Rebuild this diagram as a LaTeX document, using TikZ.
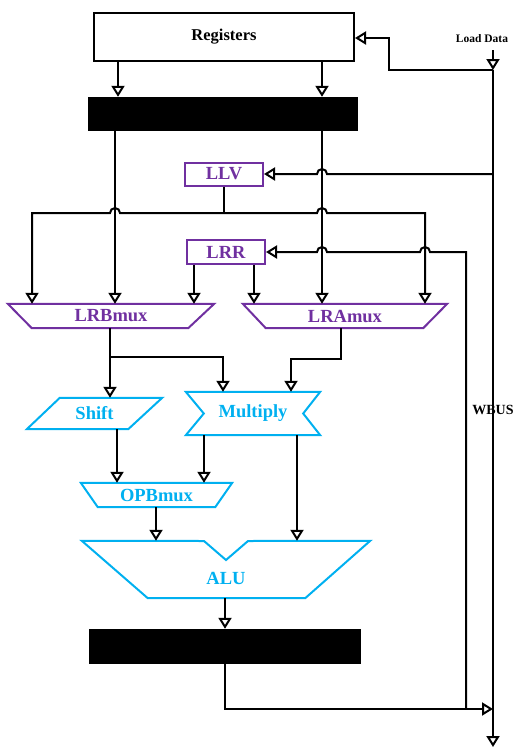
\documentclass[tikz,border=0pt]{standalone}
\usepackage{fontspec}
\setmainfont{Liberation Serif}
\usetikzlibrary{arrows.meta,calc}
\definecolor{regpurple}{HTML}{7030A0}
\definecolor{alublue}{HTML}{00B0F0}

\begin{document}
\begin{tikzpicture}[x=1pt,y=-1pt,
  wire/.style={line width=2pt,draw=black},
  arr/.style={wire,-{Triangle[open,length=11pt,width=13pt,line width=2pt]}},
  frame/.style={rectangle,inner sep=0pt,draw=none},
  blackbox/.style={rectangle,inner sep=0pt,fill=black,draw=none},
  regbox/.style={rectangle,inner sep=0pt,draw=black,line width=2pt,
    font=\bfseries\fontsize{16.5}{18}\selectfont},
  pbox/.style={rectangle,inner sep=0pt,draw=regpurple,line width=2pt,
    text=regpurple,font=\bfseries\fontsize{18.5}{20}\selectfont},
  ptxt/.style={frame,text=regpurple,font=\bfseries\fontsize{18.5}{20}\selectfont},
  btxt/.style={frame,text=alublue,font=\bfseries\fontsize{18.5}{20}\selectfont},
  pline/.style={draw=regpurple,line width=2pt,line join=miter},
  bline/.style={draw=alublue,line width=2pt,line join=miter},
  smalllabel/.style={font=\bfseries\fontsize{11.5}{13}\selectfont,inner sep=0pt},
  buslabel/.style={font=\bfseries\fontsize{14}{16}\selectfont,inner sep=0pt}
]
\useasboundingbox (0,0) rectangle (516,748);

% ---- register file and operand latches ----
\node[regbox,minimum width=260pt,minimum height=48pt] (regs) at (224,37) {Registers};
\node[blackbox,minimum width=270pt,minimum height=34pt] (blk1) at (223,114) {};

% ---- purple latches and muxes ----
\node[pbox,minimum width=78pt,minimum height=23pt] (llv) at (224,174) {LLV};
\node[pbox,minimum width=78pt,minimum height=24pt] (lrr) at (226,252) {LRR};
\node[ptxt,minimum width=206pt,minimum height=24pt] (lrb) at (111,316) {LRBmux};
\node[ptxt,minimum width=204pt,minimum height=24pt] (lra) at (345,316) {LRAmux};
\draw[pline] (lrb.north west) -- (lrb.north east) -- ([xshift=-26pt]lrb.south east)
  -- ([xshift=24pt]lrb.south west) -- cycle;
\draw[pline] (lra.north west) -- (lra.north east) -- ([xshift=-24pt]lra.south east)
  -- ([xshift=23pt]lra.south west) -- cycle;

% ---- blue datapath units ----
\node[btxt,minimum width=135pt,minimum height=31pt] (shift) at (94.5,413.5) {Shift};
\draw[bline] ([xshift=33pt]shift.north west) -- (shift.north east)
  -- ([xshift=-34pt]shift.south east) -- (shift.south west) -- cycle;

\node[btxt,minimum width=134pt,minimum height=43pt] (mult) at (253,413.5) {Multiply};
\draw[bline] (mult.north west) -- (mult.north east) -- ([xshift=-17pt]mult.east)
  -- (mult.south east) -- (mult.south west) -- ([xshift=18pt]mult.west) -- cycle;

\node[btxt,minimum width=151pt,minimum height=24pt] (opb) at (156.5,495) {OPBmux};
\draw[bline] (opb.north west) -- (opb.north east) -- ([xshift=-17pt]opb.south east)
  -- ([xshift=17pt]opb.south west) -- cycle;

\node[frame,minimum width=288pt,minimum height=57pt] (alu) at (226,569.5) {};
\coordinate (aluNotchL) at (204,541);
\coordinate (aluNotch) at (226,560);
\coordinate (aluNotchR) at (248,541);
\draw[bline] (alu.north west) -- (aluNotchL) -- (aluNotch) -- (aluNotchR)
  -- (alu.north east) -- ([xshift=-65pt]alu.south east)
  -- ([xshift=66pt]alu.south west) -- cycle;
\node[btxt] (alutxt) at (226,578) {ALU};

\node[blackbox,minimum width=272pt,minimum height=35pt] (blk2) at (225,646.5) {};

% ---- bus and labels ----
\node[smalllabel] (ld) at (482,39) {Load Data};
\node[buslabel] (wbus) at (493,410) {WBUS};
\coordinate (ldTail) at (493,50);
\coordinate (busTop) at (493,70);
\coordinate (busEnd) at (493,747);
\coordinate (regIn) at (389,38);
\coordinate (wbTap) at (466,709);
\coordinate (wbIn) at (493,709);

% column positions
\coordinate (cRegB) at (118,0);
\coordinate (cRegA) at (322,0);
\coordinate (cB) at (115,0);
\coordinate (cA) at (322,0);
\coordinate (cLL) at (32,0);
\coordinate (cLR) at (425,0);
\coordinate (cRR1) at (194,0);
\coordinate (cRR2) at (254,0);

% load data into the bus
\draw[arr] (ldTail) -- (busTop);
\draw[arr] (busTop) -- (busEnd);
\draw[arr] (busTop) -- (regIn |- busTop) -- (regIn) -- (regs.east |- regIn);

% register outputs into the latches
\draw[arr] (regs.south -| cRegB) -- (blk1.north -| cRegB);
\draw[arr] (regs.south -| cRegA) -- (blk1.north -| cRegA);

% latches down to the muxes
\draw[arr] (blk1.south -| cB) -- (lrb.north -| cB);
\draw[arr] (blk1.south -| cA) -- (lra.north -| cA);

% bus into LLV, hopping over the A column
\draw[arr] (493,174) -- (327,174) arc[start angle=0,end angle=180,radius=5pt] -- (llv.east);

% LLV fan-out
\coordinate (llvSplit) at (224,213);
\draw[wire] (llv.south) -- (llvSplit);
\draw[arr] (llvSplit) -- (120,213) arc[start angle=0,end angle=180,radius=5pt]
  -- (cLL |- llvSplit) -- (lrb.north -| cLL);
\draw[arr] (llvSplit) -- (317,213) arc[start angle=180,end angle=0,radius=5pt]
  -- (cLR |- llvSplit) -- (lra.north -| cLR);

% write-back into LRR, hopping over two columns
\draw[arr] (wbTap) -- (466,252) -- (430,252) arc[start angle=0,end angle=180,radius=5pt]
  -- (327,252) arc[start angle=0,end angle=180,radius=5pt] -- (lrr.east);

% LRR into both muxes
\draw[arr] (lrr.south -| cRR1) -- (lrb.north -| cRR1);
\draw[arr] (lrr.south -| cRR2) -- (lra.north -| cRR2);

% mux outputs
\coordinate (bSplit) at (110,357);
\draw[arr] (lrb.south -| bSplit) -- (shift.north -| bSplit);
\draw[arr] (bSplit) -- (223,357) -- (mult.north -| 223,0);
\draw[arr] (lra.south -| 341,0) -- (341,359) -- (291,359) -- (mult.north -| 291,0);

% into the operand-B mux and the ALU
\draw[arr] (shift.south -| 117,0) -- (opb.north -| 117,0);
\draw[arr] (mult.south -| 204,0) -- (opb.north -| 204,0);
\draw[arr] (mult.south -| 297,0) -- (alu.north -| 297,0);
\draw[arr] (opb.south -| 156,0) -- (alu.north -| 156,0);

% ALU result through the output latch to the bus
\draw[arr] (alu.south -| 225,0) -- (blk2.north -| 225,0);
\draw[arr] (blk2.south -| 225,0) -- (225,709) -- (wbIn);
\end{tikzpicture}
\end{document}
